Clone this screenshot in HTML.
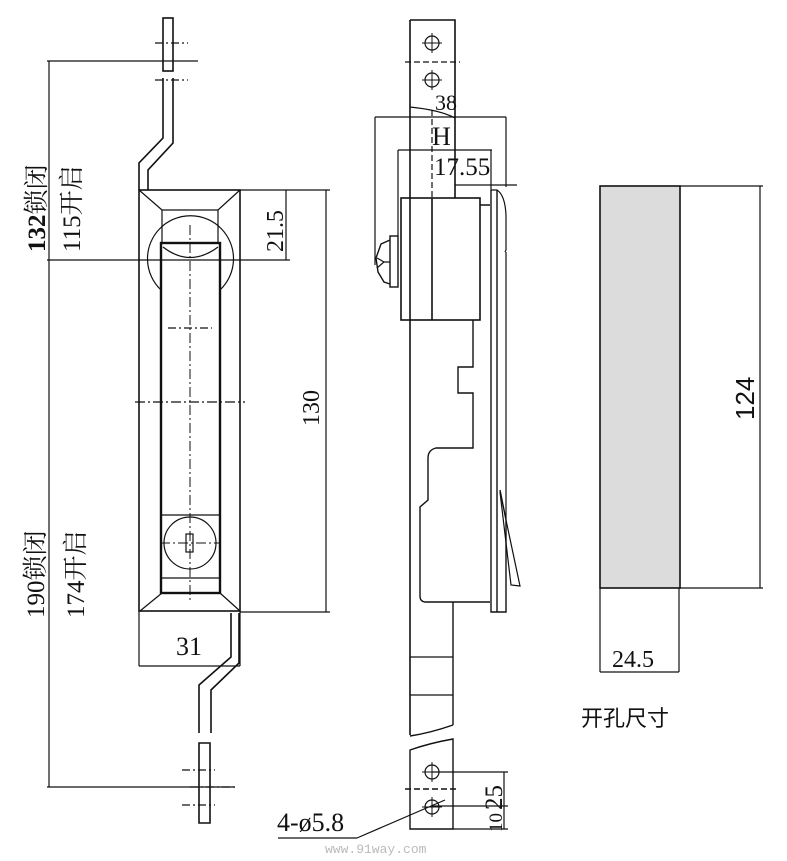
<!DOCTYPE html>
<html><head><meta charset="utf-8"><style>
html,body{margin:0;padding:0;background:#fff;}
svg{display:block;}
text{font-family:"Liberation Serif","Noto Serif CJK SC",serif;fill:#111;}
</style></head><body>
<svg width="787" height="861" viewBox="0 0 787 861" xmlns="http://www.w3.org/2000/svg">
<g fill="none" stroke="#111" stroke-width="1.2">
<!-- LEFT VIEW -->
<rect x="163" y="18" width="10" height="53" stroke-width="1.6"/>
<path d="M163 78 V138 L139 163 V190" stroke-width="1.6"/>
<path d="M173 78 V143 L148 170 V190" stroke-width="1.6"/>
<line x1="155" y1="43" x2="188" y2="43" stroke-dasharray="8 3 2 3"/>
<line x1="155" y1="80" x2="188" y2="80" stroke-dasharray="8 3 2 3"/>
<line x1="47" y1="61" x2="198" y2="61"/>
<rect x="139" y="190" width="101" height="421" stroke-width="1.6"/>
<path d="M139 190 L162 210 H218 L240 190" />
<line x1="162" y1="210" x2="162" y2="593"/>
<line x1="218" y1="210" x2="218" y2="593"/>
<path d="M162 593 L140 611 M220 593 L240 611"/>
<path d="M161 290 A43 43 0 1 1 220 290"/>
<rect x="161" y="243" width="59" height="350" stroke-width="2.4" fill="#fff"/>
<path d="M163 247 Q190 268 218 247"/>
<line x1="162" y1="515" x2="220" y2="515"/>
<line x1="162" y1="578" x2="220" y2="578"/>
<circle cx="190" cy="543" r="26"/>
<rect x="186" y="534" width="7" height="18"/>
<line x1="190" y1="225" x2="190" y2="600" stroke-dasharray="10 3 2 3" stroke-width="1"/>
<line x1="160" y1="543" x2="220" y2="543" stroke-dasharray="10 3 2 3" stroke-width="1"/>
<line x1="168" y1="328" x2="212" y2="328" stroke-dasharray="8 3 2 3"/>
<line x1="135" y1="402" x2="245" y2="402" stroke-dasharray="10 3 2 3"/>
<line x1="47" y1="260" x2="290" y2="260"/>
<line x1="240" y1="190" x2="330" y2="190"/>
<line x1="286" y1="190" x2="286" y2="260"/>
<line x1="240" y1="612" x2="330" y2="612"/>
<line x1="326" y1="190" x2="326" y2="612"/>
<line x1="49" y1="61" x2="49" y2="787"/>
<line x1="47" y1="787" x2="235" y2="787"/>
<line x1="139" y1="611" x2="139" y2="666"/>
<line x1="240" y1="611" x2="240" y2="666"/>
<line x1="139" y1="666" x2="240" y2="666"/>
<path d="M239 613 V663 L211 690 V733" stroke-width="1.6"/>
<path d="M231 613 V657 L199 685 V733" stroke-width="1.6"/>
<path d="M199 743 V823 H210 V743 Z" stroke-width="1.6"/>
<line x1="182" y1="770" x2="215" y2="770" stroke-dasharray="8 3 2 3"/>
<line x1="182" y1="805" x2="215" y2="805" stroke-dasharray="8 3 2 3"/>
<line x1="190" y1="787" x2="235" y2="787" stroke-dasharray="8 3 2 3"/>

<!-- MIDDLE VIEW -->
<path d="M410 20 H455 V198 M410 20 V198" stroke-width="1.6"/>
<circle cx="432" cy="43" r="7"/><circle cx="432" cy="80" r="7"/>
<path d="M422 43 H442 M432 33 V53 M422 80 H442 M432 70 V90" stroke-width="1"/>
<line x1="405" y1="62" x2="460" y2="62" stroke-dasharray="6 3"/>
<path d="M410 107 Q440 110 455 118"/>
<line x1="375" y1="117" x2="506" y2="117"/>
<line x1="375" y1="117" x2="375" y2="265"/>
<line x1="506" y1="117" x2="506" y2="187"/>
<line x1="398" y1="150" x2="492" y2="150"/>
<line x1="398" y1="150" x2="398" y2="236"/>
<line x1="491" y1="150" x2="491" y2="190"/>
<line x1="432" y1="110" x2="432" y2="198" stroke-dasharray="6 3"/>
<line x1="455" y1="185" x2="517" y2="185"/>
<rect x="401" y="198" width="79" height="122" stroke-width="1.6"/>
<line x1="432" y1="198" x2="432" y2="320" stroke-width="1.6"/>
<rect x="390" y="236" width="8" height="51" stroke-width="1.4"/>
<path d="M390 240 L381 244 L376 258 L378 272 L384 282 L390 284" stroke-width="1.4"/>
<path d="M377 258 L384 262 L377 268 M384 262 L390 262"/>
<path d="M480 205 H490 M491 190 V612 H506 V520 L500 490 M497 190 V612" stroke-width="1.4"/>
<path d="M491 190 H497 Q505 195 506 215 V250 L505 252"/>
<path d="M506 252 V520 M500 492 L511 585 L520 586 L506 520" stroke-width="1.2"/>
<path d="M410 198 V735" stroke-width="1.6"/>
<path d="M473 320 V367 H458 V393 H473 V448 H436 Q428 450 428 458 V500 L420 507 V596 Q420 602 426 602 H490" stroke-width="1.4"/>
<path d="M453 602 V725" stroke-width="1.4"/>
<path d="M410 657 H453 M410 695 H453"/>
<path d="M410 736 Q430 733 453 725" stroke-width="1.4"/>
<path d="M410 750 Q430 743 453 739 V829 H410 Z" stroke-width="1.4"/>
<circle cx="432" cy="772" r="7"/><circle cx="432" cy="807" r="7"/>
<path d="M422 772 H442 M432 762 V782 M422 807 H442 M432 797 V817" stroke-width="1"/>
<line x1="405" y1="789" x2="457" y2="789" stroke-dasharray="6 3" stroke-width="1.6"/>
<line x1="432" y1="772" x2="508" y2="772"/>
<line x1="432" y1="806" x2="508" y2="806"/>
<line x1="453" y1="829" x2="508" y2="829"/>
<line x1="504" y1="772" x2="504" y2="829"/>
<line x1="278" y1="838" x2="357" y2="838"/>
<line x1="357" y1="838" x2="445" y2="800"/>

<!-- RIGHT VIEW -->
<rect x="600" y="186" width="80" height="402" fill="#dcdcdc" stroke-width="1.6"/>
<line x1="680" y1="186" x2="763" y2="186"/>
<line x1="680" y1="588" x2="763" y2="588"/>
<line x1="760" y1="186" x2="760" y2="588"/>
<line x1="600" y1="588" x2="600" y2="672"/>
<line x1="679" y1="588" x2="679" y2="672"/>
<line x1="600" y1="672" x2="679" y2="672"/>
</g>

<g font-size="24">
<text transform="translate(45,252) rotate(-90)" font-size="25" font-weight="bold">132<tspan font-weight="normal">锁闭</tspan></text>
<text transform="translate(80,252) rotate(-90)" font-size="25">115开启</text>
<text transform="translate(44,618) rotate(-90)" font-size="25">190锁闭</text>
<text transform="translate(84,618) rotate(-90)" font-size="25">174开启</text>
<text transform="translate(283,252) rotate(-90)">21.5</text>
<text transform="translate(319,426) rotate(-90)">130</text>
<text x="176" y="655" font-size="26">31</text>
<text x="435" y="110" font-size="22">38</text>
<text x="432" y="145" font-size="26">H</text>
<text x="434" y="175" font-size="25">17.55</text>
<text transform="translate(502,810) rotate(-90)" font-size="25">25</text>
<text transform="translate(502,832) rotate(-90)" font-size="19">10</text>
<text x="277" y="831" font-size="26">4-ø5.8</text>
<text transform="translate(754,420) rotate(-90)" font-size="26" style='font-family:"Liberation Sans",sans-serif'>124</text>
<text x="612" y="667">24.5</text>
<text x="581" y="726" font-size="22" style='font-family:"Liberation Sans","Noto Sans CJK SC",sans-serif'>开孔尺寸</text>
</g>
<text x="325" y="853" font-size="13" style='font-family:"Liberation Mono",monospace;fill:#bbb'>www.91way.com</text>
</svg>
</body></html>
